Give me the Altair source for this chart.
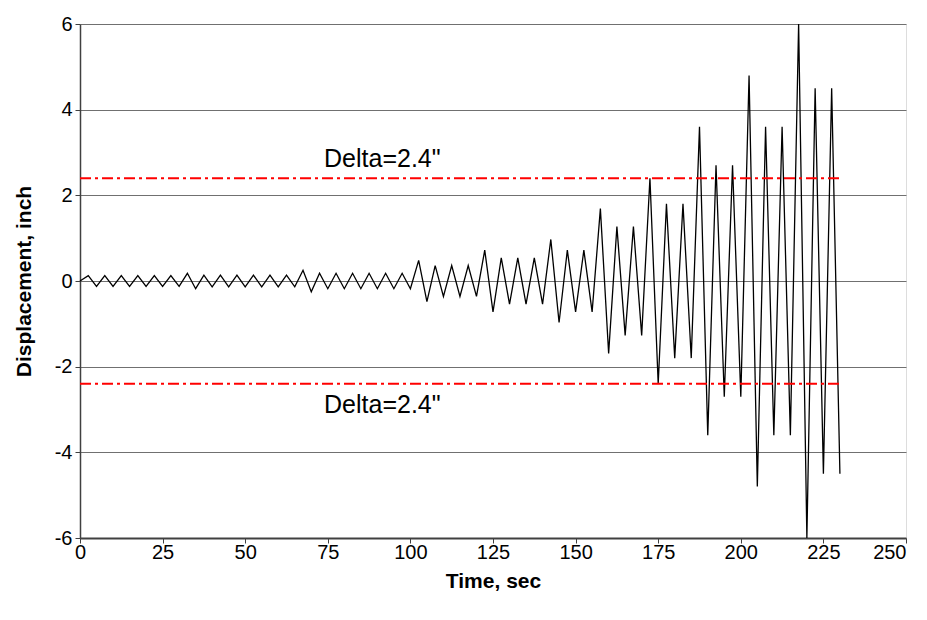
import altair as alt
import pandas as pd

# Time (sec) and displacement (inch)
time_s = [0, 2.5, 5, 7.5, 10, 12.5, 15, 17.5, 20, 22.5, 25, 27.5, 30, 32.5, 35,
          37.5, 40, 42.5, 45, 47.5, 50, 52.5, 55, 57.5, 60, 62.5, 65, 67.5, 70,
          72.5, 75, 77.5, 80, 82.5, 85, 87.5, 90, 92.5, 95, 97.5, 100, 102.5, 105,
          107.5, 110, 112.5, 115, 117.5, 120, 122.5, 125, 127.5, 130, 132.5, 135,
          137.5, 140, 142.5, 145, 147.5, 150, 152.5, 155, 157.5, 160, 162.5, 165,
          167.5, 170, 172.5, 175, 177.5, 180, 182.5, 185, 187.5, 190, 192.5, 195,
          197.5, 200, 202.5, 205, 207.5, 210, 212.5, 215, 217.5, 220, 222.5, 225,
          227.5, 230]
disp_in = [0, 0.125, -0.125, 0.125, -0.125, 0.125, -0.125, 0.125, -0.125, 0.125, -0.125, 0.125, -0.125, 0.18, -0.18,
           0.135, -0.135, 0.135, -0.135, 0.135, -0.135, 0.135, -0.135, 0.135, -0.135, 0.135, -0.135, 0.25, -0.25,
           0.18, -0.18, 0.18, -0.18, 0.18, -0.18, 0.18, -0.18, 0.18, -0.18, 0.18, -0.18, 0.48, -0.48,
           0.36, -0.36, 0.36, -0.36, 0.36, -0.36, 0.72, -0.72, 0.54, -0.54, 0.54, -0.54,
           0.54, -0.54, 0.97, -0.97, 0.72, -0.72, 0.72, -0.72, 1.69, -1.69, 1.27, -1.27,
           1.27, -1.27, 2.4, -2.4, 1.8, -1.8, 1.8, -1.8, 3.6, -3.6, 2.7, -2.7,
           2.7, -2.7, 4.8, -4.8, 3.6, -3.6, 3.6, -3.6, 6.0, -6.0, 4.5, -4.5,
           4.5, -4.5]

# Limit lines
limit_values = [2.4, -2.4]
limit_start = [0, 0]
limit_end = [230, 230]

# Annotations
label_texts = ['Delta=2.4"', 'Delta=2.4"']
label_time = [91.5, 91.5]
label_level = [2.4, -2.4]

x_ticks = [0, 25, 50, 75, 100, 125, 150, 175, 200, 225, 250]
y_ticks = [-6, -4, -2, 0, 2, 4, 6]

FONT = "Liberation Sans"

series = pd.DataFrame({"t": time_s, "d": disp_in})
limits = pd.DataFrame({"y": limit_values, "x0": limit_start, "x1": limit_end})
labels = pd.DataFrame({"t": label_time, "y": label_level, "text": label_texts})

x_scale = alt.Scale(domain=[0, 250], nice=False, zero=False)
y_scale = alt.Scale(domain=[-6, 6], nice=False, zero=False)

x_axis = alt.Axis(values=x_ticks, grid=False, tickSize=5, tickColor="#404040",
                  domainColor="#404040", domainWidth=2, labelFontSize=20,
                  labelColor="black", labelFont=FONT, labelPadding=-1,
                  labelFlush=False,
                  labelAlign=alt.expr("datum.value == 250 ? 'right' : 'center'"),
                  labelExpr="'' + datum.value",
                  title="Time, sec", titleFont=FONT, titleFontSize=21,
                  titleFontWeight="bold", titleColor="black", titlePadding=8)
y_axis = alt.Axis(values=y_ticks, grid=True, gridColor="#707070", gridWidth=1,
                  tickSize=5, tickColor="#404040", domainColor="#404040",
                  domainWidth=1.5, labelFontSize=20, labelColor="black",
                  labelFont=FONT, labelPadding=3,
                  labelExpr="'' + datum.value",
                  title="Displacement, inch", titleFont=FONT, titleFontSize=21,
                  titleFontWeight="bold", titleColor="black", titlePadding=20)

line = alt.Chart(series).mark_line(color="black", strokeWidth=1.3).encode(
    x=alt.X("t:Q", scale=x_scale, axis=x_axis),
    y=alt.Y("d:Q", scale=y_scale, axis=y_axis),
    order="t:Q",
)

rules = alt.Chart(limits).mark_rule(color="#ff0000", strokeWidth=2,
                                    strokeDash=[11, 4, 3, 4]).encode(
    x=alt.X("x0:Q", scale=x_scale),
    x2="x1:Q",
    y=alt.Y("y:Q", scale=y_scale),
)

upper = alt.Chart(labels[labels["y"] > 0]).mark_text(
    font=FONT, fontSize=25, color="black", baseline="bottom", dy=-6
).encode(x=alt.X("t:Q", scale=x_scale), y=alt.Y("y:Q", scale=y_scale), text="text:N")

lower = alt.Chart(labels[labels["y"] < 0]).mark_text(
    font=FONT, fontSize=25, color="black", baseline="top", dy=9
).encode(x=alt.X("t:Q", scale=x_scale), y=alt.Y("y:Q", scale=y_scale), text="text:N")

chart = alt.layer(line, rules, upper, lower).properties(
    width=826, height=514,
    autosize=alt.AutoSizeParams(type="none"),
    padding={"left": 72, "top": 16, "right": 10, "bottom": 70},
).configure_view(stroke="#808080", strokeWidth=1).configure(background="white")

chart.save("out.html", embed_options={"renderer": "svg", "actions": False})
